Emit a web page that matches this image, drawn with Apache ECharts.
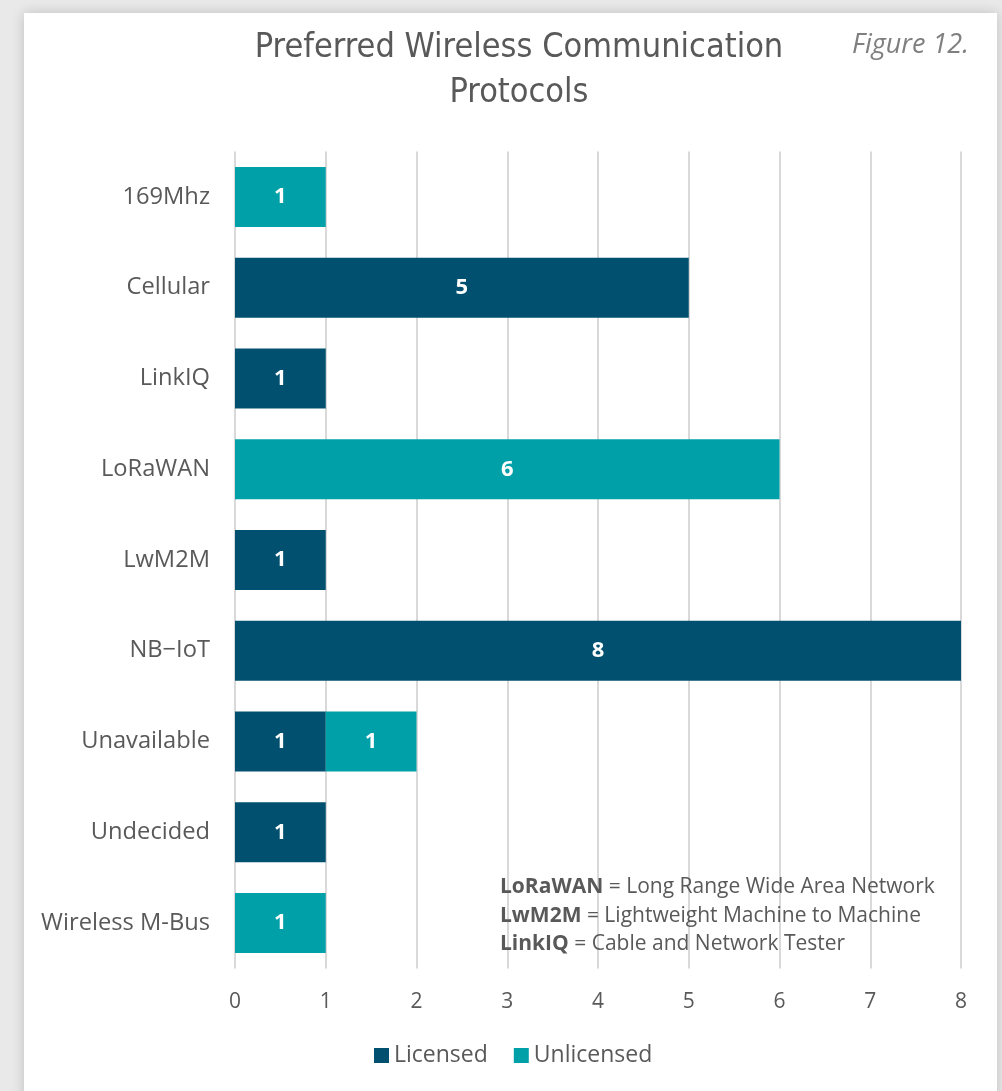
<!DOCTYPE html>
<html>
<head>
<meta charset="utf-8">
<style>
html,body{margin:0;padding:0;background:#e9e9e9;}
#chart{width:1002px;height:1091px;}
</style>
<script src="https://cdn.jsdelivr.net/npm/echarts@6/dist/echarts.min.js"></script>
</head>
<body>
<div id="chart"></div>
<script>
const categories = ['169Mhz','Cellular','LinkIQ','LoRaWAN','LwM2M','NB\u2212IoT','Unavailable','Undecided','Wireless M-Bus'];
const licensed   = [0, 5, 1, 0, 1, 8, 1, 1, 0];
const unlicensed = [1, 0, 0, 6, 0, 0, 1, 0, 1];
const xTicks = [0,1,2,3,4,5,6,7,8];
const seriesNames = ['Licensed','Unlicensed'];
const notes = [['LoRaWAN','Long Range Wide Area Network'],['LwM2M','Lightweight Machine to Machine'],['LinkIQ','Cable and Network Tester']];

const chart = echarts.init(document.getElementById('chart'), null, {renderer:'canvas'});
const labelFont = "'Open Sans', 'Noto Sans', sans-serif";
const dataLabel = {
  show:true, position:'inside', color:'#ffffff', fontWeight:'bold', fontSize:22, fontFamily:labelFont,
  formatter: p => p.value ? String(p.value) : ''
};
chart.setOption({
  backgroundColor:'#e9e9e9',
  animation:false,
  title:{
    text:'Preferred Wireless Communication\nProtocols',
    left:514, top:21, textAlign:'center',
    textStyle:{fontFamily:"'Liberation Sans Narrow','DejaVu Sans Condensed','Roboto',sans-serif", fontWeight:'normal', fontSize:34, color:'#595959', lineHeight:45}
  },
  graphic:[
    {type:'rect', z:-10, shape:{x:24,y:13,width:973,height:1100}, style:{fill:'#ffffff', shadowBlur:12, shadowColor:'rgba(0,0,0,0.18)'}},
    {type:'text', x:852, y:32, style:{text:'Figure 12.', fontFamily:labelFont, fontStyle:'italic', fontSize:27, fill:'#7f7f7f'}},
    {type:'text', x:500, y:873, z:10, style:{
      text: notes.map(n => '{b|'+n[0]+'} = '+n[1]).join('\n'),
      fontFamily:labelFont, fontSize:21, fill:'#595959', lineHeight:28.5,
      rich:{b:{fontWeight:'bold', fontFamily:labelFont, fontSize:21, fill:'#595959', color:'#595959'}}
    }}
  ],
  legend:{
    data:seriesNames, bottom:19, left:369, itemWidth:15, itemHeight:15, itemGap:26, icon:'rect',
    textStyle:{fontFamily:labelFont, fontSize:23, color:'#595959'}
  },
  grid:{left:235, right:41, top:151.6, bottom:122.6, containLabel:false},
  xAxis:{
    type:'value', min:0, max:8, interval:1,
    axisLine:{show:false}, axisTick:{show:false},
    axisLabel:{fontFamily:labelFont, fontSize:21, color:'#595959', margin:23, formatter: v => xTicks.includes(v) ? String(v) : ''},
    splitLine:{show:true, lineStyle:{color:'#d9d9d9', width:2}}
  },
  yAxis:{
    type:'category', data:categories, inverse:true,
    axisLine:{show:false}, axisTick:{show:false},
    axisLabel:{fontFamily:labelFont, fontSize:23.7, color:'#595959', margin:25}
  },
  series:[
    {name:'Licensed', type:'bar', stack:'a', data:licensed, barWidth:60, itemStyle:{color:'#02506f'}, label:dataLabel},
    {name:'Unlicensed', type:'bar', stack:'a', data:unlicensed, barWidth:60, itemStyle:{color:'#00a0a8'}, label:dataLabel}
  ]
});
</script>
</body>
</html>
